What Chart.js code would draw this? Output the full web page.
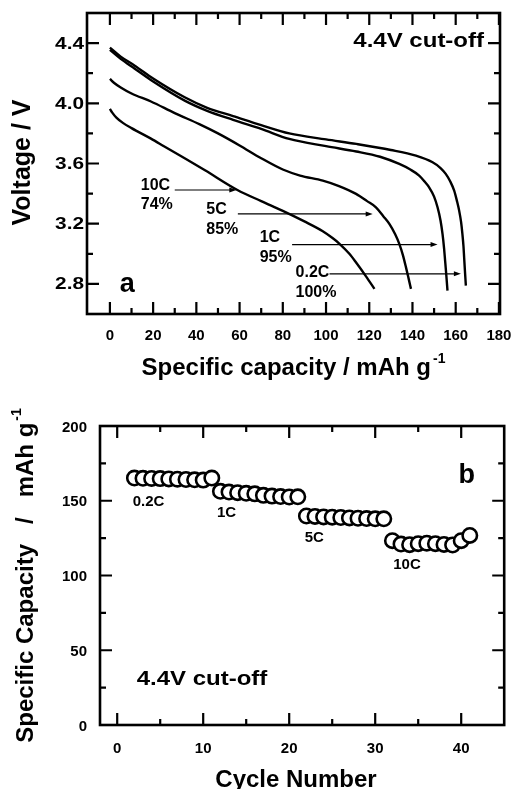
<!DOCTYPE html>
<html>
<head>
<meta charset="utf-8">
<script src="https://cdn.jsdelivr.net/npm/chart.js@4.4.1/dist/chart.umd.min.js"></script>
<style>
  html, body { margin: 0; padding: 0; background: #fff; }
  #wrap { position: relative; width: 514px; height: 789px; overflow: hidden; }
  canvas { position: absolute; left: 0; }
</style>
</head>
<body>
<div id="wrap">
  <canvas id="chartA" width="514" height="395" style="top:0"></canvas>
  <canvas id="chartB" width="514" height="394" style="top:395px"></canvas>
</div>
<script>
// ---- (a) discharge curves, capacity in mAh/g, voltage in V ----
const cap02  = [0, 5, 11.5, 20, 34.6, 45, 57, 70, 83, 100, 114, 130, 141.6, 149.3, 153, 155.4, 157.5, 159.3, 160.6, 161.6, 162.5, 163.1, 163.6, 163.9, 164.3, 164.7];
const volt02 = [4.37, 4.31, 4.25, 4.165, 4.04, 3.97, 3.915, 3.855, 3.80, 3.76, 3.73, 3.69, 3.652, 3.608, 3.57, 3.531, 3.48, 3.42, 3.35, 3.287, 3.21, 3.132, 3.05, 2.977, 2.88, 2.789];

const cap1  = [0, 5, 11.5, 20, 34.6, 45, 57, 70, 83, 100, 114, 125, 133.9, 139, 143.1, 145.6, 147.7, 150, 151.6, 153, 153.9, 154.6, 155.1, 155.7, 156.2];
const volt1 = [4.355, 4.295, 4.23, 4.145, 4.018, 3.95, 3.89, 3.83, 3.763, 3.715, 3.68, 3.645, 3.597, 3.56, 3.52, 3.48, 3.442, 3.38, 3.309, 3.22, 3.132, 3.04, 2.955, 2.85, 2.755];

const cap5  = [0, 2, 5, 10, 19, 30, 41.6, 50, 60, 70, 80, 88, 98.5, 106, 113.9, 119, 123.1, 126.5, 129.3, 132, 133.9, 135.6, 137, 138.3, 139.3];
const volt5 = [4.162, 4.135, 4.105, 4.065, 4.012, 3.935, 3.86, 3.80, 3.72, 3.635, 3.56, 3.52, 3.486, 3.45, 3.398, 3.35, 3.309, 3.25, 3.199, 3.13, 3.066, 2.99, 2.91, 2.83, 2.767];

const cap10  = [0, 1, 3, 6, 10, 19, 25, 34, 44, 59, 70, 80, 90, 98.5, 103, 106, 110.8, 114, 118.5, 122.4];
const volt10 = [3.963, 3.94, 3.905, 3.87, 3.835, 3.765, 3.715, 3.64, 3.555, 3.424, 3.35, 3.285, 3.215, 3.15, 3.105, 3.07, 3.0, 2.94, 2.85, 2.767];

const rates = ['0.2C', '1C', '5C', '10C'];
const retention = ['100%', '95%', '85%', '74%'];

// annotation arrows in data units (start capacity, end capacity, voltage)
const arrowFrom = [101.6, 84.3, 59.2, 30];
const arrowTo   = [162.4, 151.6, 121.6, 58.5];
const arrowVolt = [2.867, 3.061, 3.265, 3.424];
const labelCap   = [85.9, 69.3, 44.6, 14.3];
const labelVolt  = [2.844, 3.076, 3.265, 3.425];
const labelVolt2 = [2.711, 2.944, 3.132, 3.298];

const capTicks = [0, 20, 40, 60, 80, 100, 120, 140, 160, 180];
const capMinor = [10, 30, 50, 70, 90, 110, 130, 150, 170];
const voltTicks = [2.8, 3.2, 3.6, 4.0, 4.4];
const voltMinor = [3.0, 3.4, 3.8, 4.2];

// ---- (b) rate capability ----
const cycles02 = [2, 3, 4, 5, 6, 7, 8, 9, 10, 11];
const cycles1  = [12, 13, 14, 15, 16, 17, 18, 19, 20, 21];
const cycles5  = [22, 23, 24, 25, 26, 27, 28, 29, 30, 31];
const cycles10 = [32, 33, 34, 35, 36, 37, 38, 39, 40, 41];
const capB02 = [165.2, 165.0, 164.9, 164.8, 164.6, 164.4, 164.2, 164.0, 163.8, 165.2];
const capB1  = [156.3, 155.8, 155.4, 155.0, 154.6, 153.6, 153.1, 152.8, 152.5, 152.6];
const capB5  = [139.8, 139.5, 139.2, 139.0, 138.8, 138.5, 138.3, 138.1, 137.9, 137.9];
const capB10 = [123.3, 121.0, 120.6, 121.3, 121.6, 121.3, 120.8, 120.4, 123.3, 126.8];
const rateLabelX = [1.8, 11.6, 21.8, 32.1];
const rateLabelY = [146.3, 139.2, 122.1, 104.3];

const cycleTicks = [0, 10, 20, 30, 40];
const cycleMinor = [5, 15, 25, 35];
const capBTicks = [0, 50, 100, 150, 200];
const capBMinor = [25, 75, 125, 175];

const FONT = '"Liberation Sans", Arial, Helvetica, sans-serif';

function txt(ctx, s, x, y, size, align, sx) {
  ctx.save();
  ctx.font = `bold ${size}px ${FONT}`;
  ctx.fillStyle = '#000';
  ctx.textAlign = align || 'left';
  ctx.textBaseline = 'alphabetic';
  ctx.translate(x, y);
  ctx.scale(sx || 1, 1);
  ctx.fillText(s, 0, 0);
  ctx.restore();
}

// title with a "-1" superscript, centred on (cx, y); rotated if rot
function supTitle(ctx, main, sup, cx, y, size, rot) {
  ctx.save();
  ctx.translate(cx, y);
  if (rot) ctx.rotate(-Math.PI / 2);
  ctx.fillStyle = '#000';
  ctx.textBaseline = 'alphabetic';
  ctx.textAlign = 'left';
  ctx.font = `bold ${size}px ${FONT}`;
  const w1 = ctx.measureText(main).width;
  ctx.font = `bold ${Math.round(size * 0.58)}px ${FONT}`;
  const w2 = sup ? ctx.measureText(sup).width : 0;
  const start = -(w1 + w2 + 2) / 2;
  ctx.font = `bold ${size}px ${FONT}`;
  ctx.fillText(main, start, 0);
  if (sup) {
    ctx.font = `bold ${Math.round(size * 0.58)}px ${FONT}`;
    ctx.fillText(sup, start + w1 + 2, -size * 0.5);
  }
  ctx.restore();
}

function drawFrame(chart, xMaj, xMin, yMaj, yMin) {
  const { ctx, chartArea: a, scales: { x, y } } = chart;
  ctx.save();
  ctx.strokeStyle = '#000';
  ctx.lineWidth = 2.2;
  ctx.beginPath();
  const tick = (vals, len) => {
    vals.forEach(v => {
      const px = x.getPixelForValue(v);
      ctx.moveTo(px, a.bottom); ctx.lineTo(px, a.bottom - len);
      ctx.moveTo(px, a.top); ctx.lineTo(px, a.top + len);
    });
  };
  const tickY = (vals, len) => {
    vals.forEach(v => {
      const py = y.getPixelForValue(v);
      ctx.moveTo(a.left, py); ctx.lineTo(a.left + len, py);
      ctx.moveTo(a.right, py); ctx.lineTo(a.right - len, py);
    });
  };
  tick(xMaj, 12); tick(xMin, 6);
  tickY(yMaj, 12); tickY(yMin, 6);
  ctx.stroke();
  ctx.lineWidth = 2.6;
  ctx.strokeRect(a.left, a.top, a.right - a.left, a.bottom - a.top);
  ctx.restore();
}

const commonScale = {
  type: 'linear',
  grid: { display: false, drawTicks: false },
  border: { display: false },
  ticks: { display: false }
};

// ---------------- chart (a) ----------------
const curves = [[cap02, volt02], [cap1, volt1], [cap5, volt5], [cap10, volt10]];

new Chart(document.getElementById('chartA'), {
  type: 'line',
  data: {
    datasets: curves.map(([c, v], k) => ({
      label: rates[k],
      data: c.map((cv, i) => ({ x: cv, y: v[i] })),
      borderColor: '#000',
      borderWidth: 2.4,
      pointRadius: 0,
      fill: false,
      cubicInterpolationMode: 'monotone'
    }))
  },
  options: {
    responsive: false,
    animation: false,
    events: [],
    layout: { padding: { top: 13, right: 14, left: 0, bottom: 0 } },
    plugins: { legend: { display: false }, tooltip: { enabled: false } },
    scales: {
      x: { ...commonScale, min: -10.6, max: 180.5, afterFit(s) { s.height = 81; } },
      y: { ...commonScale, min: 2.6, max: 4.6, afterFit(s) { s.width = 87; } }
    }
  },
  plugins: [{
    id: 'decorA',
    afterDraw(chart) {
      const { ctx, chartArea: a, scales: { x, y } } = chart;
      drawFrame(chart, capTicks, capMinor, voltTicks, voltMinor);
      capTicks.forEach(v => txt(ctx, String(v), x.getPixelForValue(v), a.bottom + 26, 15, 'center'));
      voltTicks.forEach(v => txt(ctx, v.toFixed(1), a.left - 3, y.getPixelForValue(v) + 5.5, 16, 'right', 1.3));
      supTitle(ctx, 'Specific capacity / mAh g', '-1', (a.left + a.right) / 2, 375, 24, false);
      supTitle(ctx, 'Voltage / V', '', 30, (a.top + a.bottom) / 2 - 2, 25, true);
      txt(ctx, '4.4V cut-off', x.getPixelForValue(173.1), y.getPixelForValue(4.372), 20, 'right', 1.2);
      txt(ctx, 'a', x.getPixelForValue(4.6), y.getPixelForValue(2.744), 27, 'left');
      // rate arrows and labels
      ctx.save();
      ctx.strokeStyle = '#000';
      ctx.fillStyle = '#000';
      ctx.lineWidth = 1.2;
      rates.forEach((r, i) => {
        const x1 = x.getPixelForValue(arrowFrom[i]);
        const x2 = x.getPixelForValue(arrowTo[i]);
        const py = y.getPixelForValue(arrowVolt[i]);
        ctx.beginPath();
        ctx.moveTo(x1, py); ctx.lineTo(x2 - 6, py);
        ctx.stroke();
        ctx.beginPath();
        ctx.moveTo(x2, py); ctx.lineTo(x2 - 7, py - 2.5); ctx.lineTo(x2 - 7, py + 2.5);
        ctx.closePath(); ctx.fill();
        const lx = x.getPixelForValue(labelCap[i]);
        txt(ctx, r, lx, y.getPixelForValue(labelVolt[i]), 16, 'left');
        txt(ctx, retention[i], lx, y.getPixelForValue(labelVolt2[i]), 16, 'left');
      });
      ctx.restore();
    }
  }]
});

// ---------------- chart (b) ----------------
const groups = [[cycles02, capB02], [cycles1, capB1], [cycles5, capB5], [cycles10, capB10]];

new Chart(document.getElementById('chartB'), {
  type: 'scatter',
  data: {
    datasets: groups.map(([c, v], k) => ({
      label: rates[k],
      data: c.map((cv, i) => ({ x: cv, y: v[i] })),
      showLine: false,
      pointRadius: 7.2,
      pointBorderWidth: 2.6,
      pointBorderColor: '#000',
      pointBackgroundColor: '#fff'
    }))
  },
  options: {
    responsive: false,
    animation: false,
    events: [],
    layout: { padding: { top: 31, right: 6, left: 0, bottom: 0 } },
    plugins: { legend: { display: false }, tooltip: { enabled: false } },
    scales: {
      x: { ...commonScale, min: -2, max: 45, afterFit(s) { s.height = 64; } },
      y: { ...commonScale, min: 0, max: 200, afterFit(s) { s.width = 100; } }
    }
  },
  plugins: [{
    id: 'decorB',
    afterDraw(chart) {
      const { ctx, chartArea: a, scales: { x, y } } = chart;
      drawFrame(chart, cycleTicks, cycleMinor, capBTicks, capBMinor);
      cycleTicks.forEach(v => txt(ctx, String(v), x.getPixelForValue(v), a.bottom + 28, 15, 'center'));
      capBTicks.forEach(v => txt(ctx, String(v), a.left - 13, y.getPixelForValue(v) + 5.5, 15, 'right'));
      supTitle(ctx, 'Cycle Number', '', 297, 392, 24, false);
      supTitle(ctx, 'Specific Capacity   /   mAh g', '-1', 33, (a.top + a.bottom) / 2, 24, true);
      txt(ctx, '4.4V cut-off', x.getPixelForValue(2.26), y.getPixelForValue(26.8), 20, 'left', 1.2);
      txt(ctx, 'b', x.getPixelForValue(39.7), y.getPixelForValue(162), 27, 'left');
      rates.forEach((r, i) => txt(ctx, r, x.getPixelForValue(rateLabelX[i]), y.getPixelForValue(rateLabelY[i]), 15, 'left'));
    }
  }]
});
</script>
</body>
</html>
